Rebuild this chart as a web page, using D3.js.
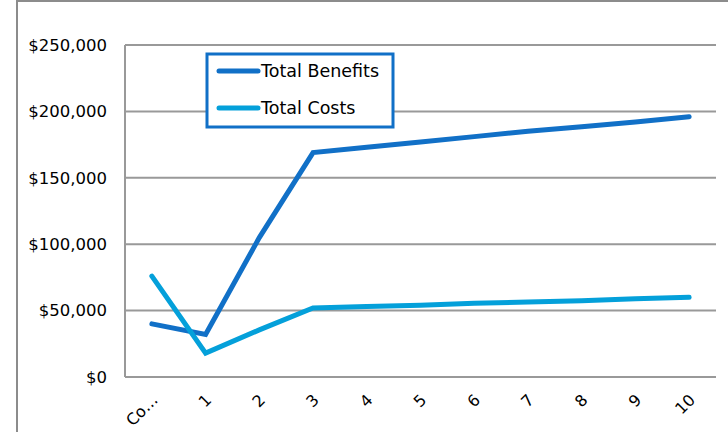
<!DOCTYPE html>
<html>
<head>
<meta charset="utf-8">
<title>benefits vs costs</title>
<style>
  body { margin: 0; background: #fff; }
  text { font-family: "DejaVu Sans", Verdana, sans-serif; fill: #000; }
</style>
</head>
<body>
<script src="https://cdn.jsdelivr.net/npm/d3@7"></script>
<svg width="728" height="432" id="mainsvg"></svg>
<script>
// categories along the bottom, and the two series
const years = ['Co…', '1', '2', '3', '4', '5', '6', '7', '8', '9', '10'];
const benefits = [40000, 32000, 105000, 169000, 173000, 177000, 181000, 185000, 188500, 192000, 196000];
const costs = [76000, 18000, 35500, 52000, 53000, 54000, 55500, 56500, 57500, 59000, 60000];
const yTicks = [0, 50000, 100000, 150000, 200000, 250000];
const seriesNames = ['Total Benefits', 'Total Costs'];
const colors = ['#1170c7', '#04a0da'];

const svg = d3.select('#mainsvg');
const plotL = 125, plotR = 716, plotT = 45, plotB = 377;

// outer frame
svg.append('rect')
    .attr('x', 17).attr('y', 1)
    .attr('width', 740).attr('height', 460)
    .attr('fill', 'none')
    .attr('stroke', '#8c8c8c')
    .attr('stroke-width', 2);

const x = d3.scaleBand().domain(years).range([plotL, plotR]);
const y = d3.scaleLinear().domain([0, 250000]).range([plotB, plotT]);

// gridlines
svg.append('g')
    .selectAll('line')
    .data(yTicks)
    .join('line')
    .attr('x1', plotL).attr('x2', plotR)
    .attr('y1', d => y(d)).attr('y2', d => y(d))
    .attr('stroke', '#999')
    .attr('stroke-width', 2);

// left axis line
svg.append('line')
    .attr('x1', plotL).attr('x2', plotL)
    .attr('y1', plotT).attr('y2', plotB)
    .attr('stroke', '#999')
    .attr('stroke-width', 2);

// y labels
svg.append('g')
    .selectAll('text')
    .data(yTicks)
    .join('text')
    .attr('x', 107)
    .attr('y', d => y(d))
    .attr('dy', '0.35em')
    .attr('text-anchor', 'end')
    .attr('font-size', 16.5)
    .text(d => '$' + d3.format(',')(d));

// x labels, rotated
svg.append('g')
    .selectAll('text')
    .data(years)
    .join('text')
    .attr('transform', d => `translate(${x(d) + x.bandwidth() / 2 + 3},${plotB + 20}) rotate(-45)`)
    .attr('text-anchor', 'end')
    .attr('dy', '0.35em')
    .attr('font-size', 16)
    .text(d => d);

const line = d3.line()
    .x((d, i) => x(years[i]) + x.bandwidth() / 2)
    .y(d => y(d));

[benefits, costs].forEach((s, i) => {
    svg.append('path')
        .datum(s)
        .attr('d', line)
        .attr('fill', 'none')
        .attr('stroke', colors[i])
        .attr('stroke-width', 5)
        .attr('stroke-linecap', 'round')
        .attr('stroke-linejoin', 'miter');
});

// legend
const lg = svg.append('g');
lg.append('rect')
    .attr('x', 207).attr('y', 54)
    .attr('width', 186).attr('height', 73)
    .attr('fill', '#fff')
    .attr('stroke', '#1170c7')
    .attr('stroke-width', 3);

seriesNames.forEach((n, i) => {
    const ly = 71 + i * 37;
    lg.append('line')
        .attr('x1', 219).attr('x2', 258)
        .attr('y1', ly).attr('y2', ly)
        .attr('stroke', colors[i])
        .attr('stroke-width', 5)
        .attr('stroke-linecap', 'round');
    lg.append('text')
        .attr('x', 261).attr('y', ly)
        .attr('dy', '0.35em')
        .attr('font-size', 17.5)
        .text(n);
});
</script>
</body>
</html>
